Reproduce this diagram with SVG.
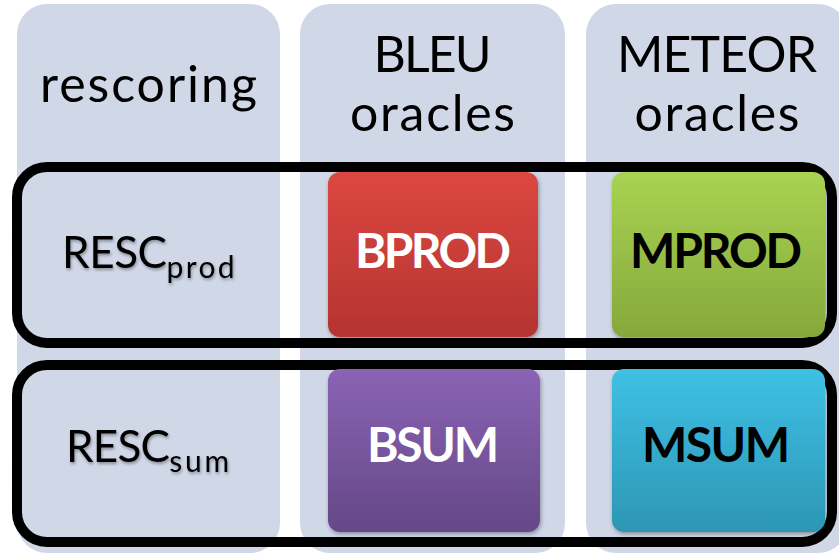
<svg xmlns="http://www.w3.org/2000/svg" width="839" height="555" viewBox="0 0 839 555">
  <defs>
    <linearGradient id="gRed" x1="0" y1="0" x2="0" y2="1">
      <stop offset="0" stop-color="#DC4740"/>
      <stop offset="1" stop-color="#B53431"/>
    </linearGradient>
    <linearGradient id="gGreen" x1="0" y1="0" x2="0" y2="1">
      <stop offset="0" stop-color="#A8D352"/>
      <stop offset="1" stop-color="#86A83B"/>
    </linearGradient>
    <linearGradient id="gPurple" x1="0" y1="0" x2="0" y2="1">
      <stop offset="0" stop-color="#8A63B4"/>
      <stop offset="1" stop-color="#654887"/>
    </linearGradient>
    <linearGradient id="gCyan" x1="0" y1="0" x2="0" y2="1">
      <stop offset="0" stop-color="#3EC1E5"/>
      <stop offset="1" stop-color="#2D96B4"/>
    </linearGradient>
    <filter id="boxShadow" x="-10%" y="-10%" width="120%" height="125%">
      <feDropShadow dx="1" dy="2" stdDeviation="2" flood-color="#000" flood-opacity="0.35"/>
    </filter>
    <filter id="textShadow" x="-10%" y="-20%" width="120%" height="150%">
      <feDropShadow dx="1" dy="2" stdDeviation="1.5" flood-color="#000" flood-opacity="0.35"/>
    </filter>
  </defs>
  <style>
    .panel { fill: #D0D8E8; }
    .frame { fill: none; stroke: #000; stroke-width: 10; }
    .head { font-family: Lato, "Liberation Sans", sans-serif; font-size: 50px; fill: #000; text-anchor: middle; }
    .row { font-family: Lato, "Liberation Sans", sans-serif; font-size: 44px; fill: #000; }
    .sub { font-size: 30px; }
    .box { filter: url(#boxShadow); }
    .lbl { font-family: Lato, "Liberation Sans", sans-serif; font-weight: bold; font-size: 48px; text-anchor: middle; }
  </style>

  <!-- column panels -->
  <g id="col-rescoring">
    <rect class="panel" x="17" y="4" width="263" height="549" rx="30"/>
    <text class="head" x="148.5" y="102" textLength="217">rescoring</text>
  </g>
  <g id="col-bleu">
    <rect class="panel" x="300" y="4" width="265" height="549" rx="30"/>
    <text class="head" x="432.5" y="72" textLength="118">BLEU</text>
    <text class="head" x="432.5" y="131" textLength="165">oracles</text>
  </g>
  <g id="col-meteor">
    <rect class="panel" x="586" y="4" width="262" height="549" rx="30"/>
    <text class="head" x="717" y="72" textLength="200">METEOR</text>
    <text class="head" x="717" y="131" textLength="165">oracles</text>
  </g>

  <!-- row groupings -->
  <g id="connectors">
    <rect class="frame" x="17" y="167" width="815" height="176" rx="30"/>
    <rect class="frame" x="17" y="365" width="815" height="177" rx="30"/>
  </g>

  <!-- row labels -->
  <g id="resc-prod" filter="url(#textShadow)">
    <text class="row" x="62" y="268"><tspan textLength="105">RESC</tspan><tspan class="sub" dy="10" textLength="68">prod</tspan></text>
  </g>
  <g id="resc-sum" filter="url(#textShadow)">
    <text class="row" x="66" y="462"><tspan textLength="104">RESC</tspan><tspan class="sub" dy="10" textLength="60">sum</tspan></text>
  </g>

  <!-- oracle boxes -->
  <g id="bprod">
    <rect class="box" x="328" y="172" width="210" height="165" rx="12" fill="url(#gRed)"/>
    <text class="lbl" x="433" y="268" fill="#FFF" textLength="156">BPROD</text>
  </g>
  <g id="mprod">
    <rect class="box" x="612" y="172" width="213" height="165" rx="12" fill="url(#gGreen)"/>
    <text class="lbl" x="716" y="268" fill="#000" textLength="172">MPROD</text>
  </g>
  <g id="bsum">
    <rect class="box" x="328" y="369" width="212" height="163" rx="12" fill="url(#gPurple)"/>
    <text class="lbl" x="433" y="462" fill="#FFF" textLength="132">BSUM</text>
  </g>
  <g id="msum">
    <rect class="box" x="612" y="369" width="213" height="163" rx="12" fill="url(#gCyan)"/>
    <text class="lbl" x="716" y="462" fill="#000" textLength="148">MSUM</text>
  </g>
</svg>
